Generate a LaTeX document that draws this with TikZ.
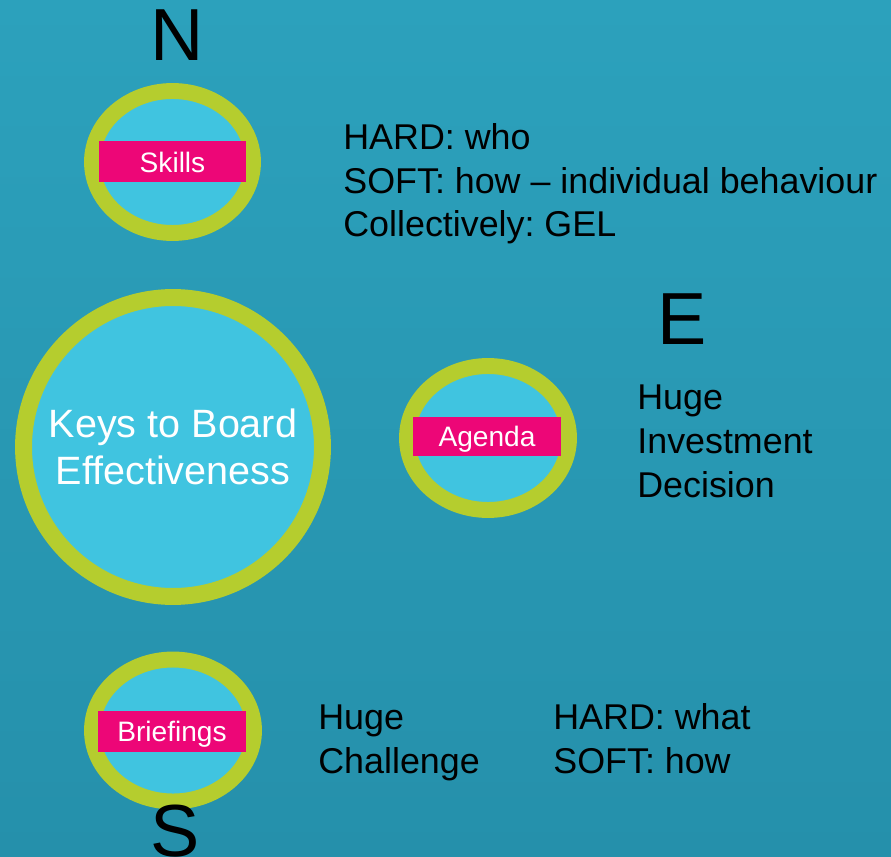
\documentclass[tikz,border=0pt]{standalone}
\usepackage{fontspec}
\setmainfont{Liberation Sans}
\frenchspacing
\usetikzlibrary{shapes.geometric}
\definecolor{seatop}{HTML}{2CA1BC}
\definecolor{seamid}{HTML}{3DB9D5}
\definecolor{seabot}{HTML}{2590AB}
\definecolor{ringfill}{HTML}{40C4E0}
\definecolor{ringline}{HTML}{B5CD2E}
\definecolor{tagpink}{HTML}{ED0677}

\begin{document}
\begin{tikzpicture}[x=0.02cm,y=-0.02cm,
        ring/.style={ellipse,draw=ringline,fill=ringfill,line width=9.07pt,inner sep=0pt},
        tag/.style={fill=tagpink,text=white,minimum width=2.96cm,inner sep=0pt,text height=11.5pt,text depth=0pt,
            font=\fontsize{16pt}{19pt}\selectfont},
        note/.style={align=left,anchor=base west,inner sep=0pt,font=\fontsize{20.4pt}{24.9pt}\selectfont},
        compass/.style={anchor=base,inner sep=0pt,font=\fontsize{42pt}{50pt}\selectfont}]
            \useasboundingbox (0,0) rectangle (891,857);
            \shade[top color=seatop,middle color=seamid,bottom color=seabot] (0,0) rectangle (891,857);
            \node[ring,minimum width=3.22cm,minimum height=2.84cm] (skills) at (172.5,162) {};
            \node[ring,circle,line width=9.64pt,minimum size=5.98cm,text=white,align=center,
                font=\fontsize{22.5pt}{26.6pt}\selectfont] (keys) at (173,447) {Keys to Board\\Effectiveness};
            \node[ring,minimum width=3.24cm,minimum height=2.88cm] (agenda) at (488,438) {};
            \node[ring,minimum width=3.24cm,minimum height=2.84cm] (briefings) at (173,730.5) {};
            \node[tag,minimum height=0.82cm] (skillstag) at (skills.center) {Skills};
            \node[tag,minimum height=0.78cm] (agendatag) at (487,436.5) {Agenda};
            \node[tag,minimum height=0.82cm] (briefingstag) at (172,731.5) {Briefings};
            \node[compass] (north) at (177,61) {N};
            \node[compass] (east) at (682,345) {E};
            \node[compass] (south) at (175,856) {S};
            \node[note] (skillsnote) at (343,237) {HARD: who\\SOFT: how -- individual behaviour\\Collectively: GEL};
            \node[note] (agendanote) at (637,497) {Huge\\Investment\\Decision};
            \node[note] (briefingsnote) at (318,773) {Huge\\Challenge};
            \node[note] (briefingshard) at (553,773) {HARD: what\\SOFT: how};
        \end{tikzpicture}
\end{document}
